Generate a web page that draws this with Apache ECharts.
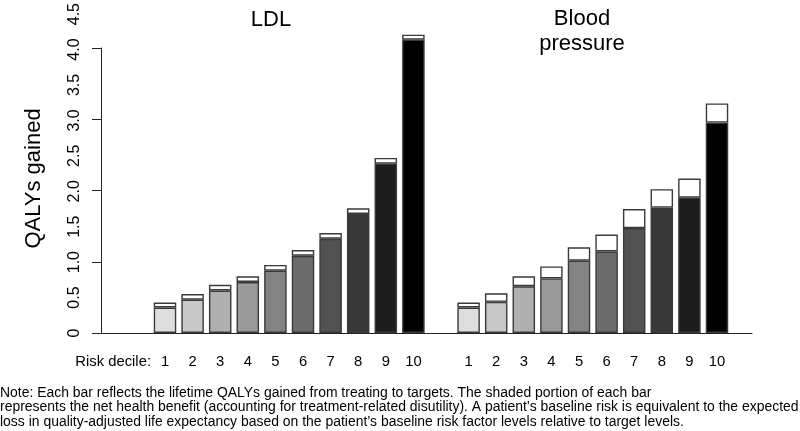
<!DOCTYPE html>
<html>
<head>
<meta charset="utf-8">
<script src="https://cdn.jsdelivr.net/npm/echarts@6/dist/echarts.min.js"></script>
<style>
  html, body { margin: 0; padding: 0; background: #fff; }
  #chart { width: 800px; height: 431px; }
</style>
</head>
<body>
<div id="chart"></div>
<script>
// ---- data ----
const deciles = ['1', '2', '3', '4', '5', '6', '7', '8', '9', '10'];
const ldlTotal = [0.43, 0.55, 0.68, 0.80, 0.96, 1.17, 1.41, 1.76, 2.47, 4.21];
const ldlNet   = [0.36, 0.47, 0.60, 0.72, 0.88, 1.09, 1.33, 1.68, 2.39, 4.14];
const bpTotal  = [0.43, 0.56, 0.80, 0.94, 1.21, 1.39, 1.75, 2.03, 2.18, 3.24];
const bpNet    = [0.36, 0.44, 0.66, 0.77, 1.02, 1.15, 1.48, 1.77, 1.91, 2.97];
const yTickLabels = ['0', '0.5', '1.0', '1.5', '2.0', '2.5', '3.0', '3.5', '4.0', '4.5'];
const panelTitles = ['LDL', 'Blood\npressure'];
const xAxisName = 'Risk decile:';
const yAxisName = 'QALYs gained';
const noteLines = [
  'Note: Each bar reflects the lifetime QALYs gained from treating to targets. The shaded portion of each bar',
  'represents the net health benefit (accounting for treatment-related disutility). A patient\u2019s baseline risk is equivalent to the expected',
  'loss in quality-adjusted life expectancy based on the patient\u2019s baseline risk factor levels relative to target levels.'
];

// ---- styles ----
const grays = ['#dedede', '#c8c8c8', '#b0b0b0', '#9a9a9a', '#838383', '#6b6b6b', '#525252', '#383838', '#1c1c1c', '#000000'];
const FONT = '"Liberation Sans", Arial, Helvetica, sans-serif';
const xLabSize = 14.8;

// ---- build category axis: LDL deciles, gap, BP deciles ----
const catKeys = [];
const catLabels = [];
deciles.forEach((d, i) => { catKeys.push('L' + i); catLabels.push(d); });
catKeys.push('gap'); catLabels.push('');
deciles.forEach((d, i) => { catKeys.push('B' + i); catLabels.push(d); });

const netData = [];
const topData = [];
function addGroup(net, total) {
  net.forEach((v, i) => {
    netData.push({ value: v, itemStyle: { color: grays[i] } });
    topData.push(+(total[i] - v).toFixed(3));
  });
}
addGroup(ldlNet, ldlTotal);
netData.push('-'); topData.push('-');
addGroup(bpNet, bpTotal);

const chart = echarts.init(document.getElementById('chart'), null, { renderer: 'canvas' });
const lineCol = '#222';
const barBorder = '#3a3a3a';

chart.setOption({
  animation: false,
  backgroundColor: '#fff',
  textStyle: { fontFamily: FONT },
  grid: [
    { left: 151.2, right: 69.2, top: 12.2, bottom: 98 },
    { left: 101, right: 48, top: 48, bottom: 98 }
  ],
  xAxis: [
    {
      gridIndex: 0, type: 'category', data: catKeys,
      axisLine: { show: false }, axisTick: { show: false },
      axisLabel: {
        interval: 0, margin: 21, color: '#000',
        fontFamily: FONT, fontSize: xLabSize,
        formatter: (v, idx) => catLabels[idx]
      }
    },
    {
      gridIndex: 1, type: 'value', min: 0, max: 1,
      axisLine: { show: true, onZero: false, lineStyle: { color: lineCol, width: 1 } },
      axisTick: { show: false }, axisLabel: { show: false }, splitLine: { show: false }
    }
  ],
  yAxis: [
    {
      gridIndex: 0, type: 'value', min: 0, max: 4.5, interval: 0.5,
      axisLine: { show: false }, axisTick: { show: false }, splitLine: { show: false },
      axisLabel: {
        rotate: 90, margin: 69, color: '#000', fontSize: 16,
        formatter: (v) => yTickLabels[Math.round(v * 2)]
      }
    },
    {
      gridIndex: 1, type: 'value', min: 0, max: 4, interval: 1,
      axisLine: { show: true, onZero: false, lineStyle: { color: lineCol, width: 1 } },
      axisTick: { show: true, length: 9, lineStyle: { color: lineCol, width: 1 } },
      axisLabel: { show: false }, splitLine: { show: false }
    }
  ],
  series: [
    {
      type: 'bar', xAxisIndex: 0, yAxisIndex: 0, stack: 'q', barWidth: 22.5,
      data: netData,
      itemStyle: { borderColor: barBorder, borderWidth: 1.4 }
    },
    {
      type: 'bar', xAxisIndex: 0, yAxisIndex: 0, stack: 'q', barWidth: 22.5,
      data: topData,
      itemStyle: { color: '#ffffff', borderColor: barBorder, borderWidth: 1.4 }
    }
  ],
  graphic: [
    {
      type: 'text', x: 271, y: 20,
      style: { text: panelTitles[0], font: '22px ' + FONT, fill: '#000', align: 'center', verticalAlign: 'middle' }
    },
    {
      type: 'text', x: 582, y: 7,
      style: { text: panelTitles[1], font: '22px ' + FONT, fill: '#000', align: 'center', verticalAlign: 'top', lineHeight: 24.5 }
    },
    {
      type: 'text', x: 34, y: 178.5, rotation: Math.PI / 2,
      style: { text: yAxisName, font: '22px ' + FONT, fill: '#000', align: 'center', verticalAlign: 'middle' }
    },
    {
      type: 'text', x: 151, y: 362,
      style: { text: xAxisName, font: xLabSize + 'px ' + FONT, fill: '#000', align: 'right', verticalAlign: 'middle' }
    },
    {
      type: 'text', x: 0, y: 385.5,
      style: { text: noteLines.join('\n'), font: '13.95px ' + FONT, fill: '#000', align: 'left', verticalAlign: 'top', lineHeight: 14.7 }
    }
  ]
});
</script>
</body>
</html>
